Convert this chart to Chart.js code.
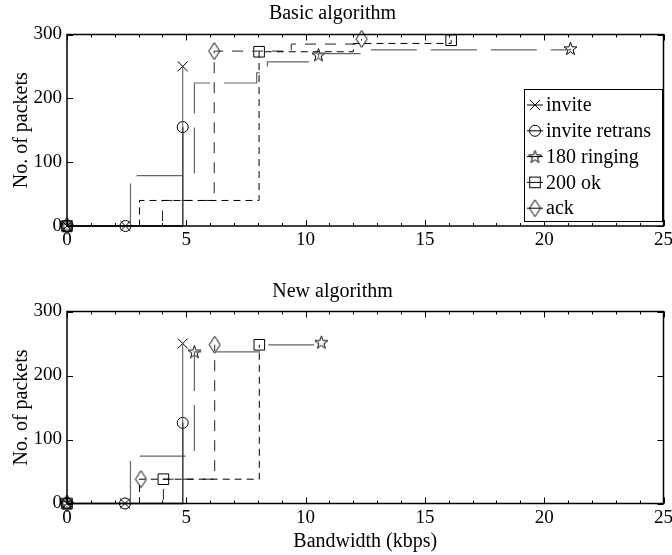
<!DOCTYPE html>
<html><head><meta charset="utf-8">
<script src="https://cdn.jsdelivr.net/npm/chart.js@4.4.1/dist/chart.umd.min.js"></script>
<style>
html,body{margin:0;padding:0;background:#fff}
body{width:672px;height:555px;position:relative;overflow:hidden}
canvas{position:absolute;left:0}
#c1{top:0}
#c2{top:278px}
</style></head><body>
<canvas id="c1" width="672" height="256"></canvas>
<canvas id="c2" width="672" height="277"></canvas>
<script>
/* two stacked step plots: packets received vs bandwidth */
const names = ['invite', 'invite retrans', '180 ringing', '200 ok', 'ack'];

// Basic algorithm — step outlines [bandwidth, packets]
const bInvite  = [[0,0],[4.85,250]];
const bRetrans = [[0,0],[4.85,155]];
const bRinging = [[0,0],[2.66,79],[5.34,224],[7.95,240],[8.4,257],[10.54,270],[12.6,276],[21.1,278]];
const bOk      = [[0,0],[3.04,40],[8.05,273],[12.0,286],[16.1,291]];
const bAck     = [[0,0],[4.0,40],[6.17,274],[9.4,285],[12.35,293]];
// Basic algorithm — marked points
const bInviteM  = [[0,0],[2.45,0],[4.85,250]];
const bRetransM = [[0,0],[2.45,0],[4.85,155]];
const bRingingM = [[0,0],[10.54,268],[21.1,278]];
const bOkM      = [[0,0],[8.05,273],[16.1,291]];
const bAckM     = [[0,0],[6.17,274],[12.35,293]];

// New algorithm — step outlines
const nInvite  = [[0,0],[4.85,250]];
const nRetrans = [[0,0],[4.85,126]];
const nRinging = [[0,0],[2.66,74],[5.34,237],[8.06,248],[10.66,252]];
const nOk      = [[0,0],[3.04,38],[8.06,248]];
const nAck     = [[0,0],[4.04,38],[6.19,248]];
// New algorithm — marked points
const nInviteM  = [[0,0],[2.43,0],[4.85,250]];
const nRetransM = [[0,0],[2.43,0],[4.85,126]];
const nRingingM = [[0,0],[5.34,237],[10.66,252]];
const nOkM      = [[0,0],[4.04,38],[8.06,248]];
const nAckM     = [[0,0],[3.1,38],[6.19,248]];

const xTicks = [0, 5, 10, 15, 20, 25];
const yTicks = [0, 100, 200, 300];

const FONT = '"Liberation Serif","Times New Roman",serif';
Chart.defaults.font.family = FONT;
Chart.defaults.color = '#000';

function starImg(){
  const c = document.createElement('canvas'); c.width = c.height = 15;
  const g = c.getContext('2d');
  g.beginPath();
  for (let k=0;k<10;k++){
    const r = k%2 ? 2.7 : 6.8, a = -Math.PI/2 + k*Math.PI/5;
    g.lineTo(7.5 + r*Math.cos(a), 8 + r*Math.sin(a));
  }
  g.closePath(); g.strokeStyle = '#000'; g.lineWidth = 1; g.stroke();
  return c;
}
function diamondImg(){
  const c = document.createElement('canvas'); c.width = 13; c.height = 19;
  const g = c.getContext('2d');
  g.beginPath(); g.moveTo(6.5,1); g.lineTo(12,9.5); g.lineTo(6.5,18); g.lineTo(1,9.5); g.closePath();
  g.strokeStyle = '#000'; g.lineWidth = 1; g.stroke();
  return c;
}
const STAR = starImg(), DIAM = diamondImg();

const styles = [
  { color:'#555', width:1,   dash:[],      point:'crossRot', r:7 },
  { color:'#000', width:1.3, dash:[],      point:'circle',   r:5.5 },
  { color:'#666', width:1.2, dash:[46,14], point:STAR,       r:6 },
  { color:'#000', width:1,   dash:[7,5],   point:'rect',     r:7.5 },
  { color:'#222', width:1,   dash:[11,9],  point:DIAM,       r:6 }
];

const toXY = arr => arr.map(([x,y]) => ({x, y}));

function drawMark(ctx, s, x, y){
  ctx.save(); ctx.strokeStyle = '#000'; ctx.lineWidth = 1;
  if (s.point === 'circle'){ ctx.beginPath(); ctx.arc(x,y,s.r,0,Math.PI*2); ctx.stroke(); }
  else if (s.point === 'rect'){ const h = s.r*Math.SQRT1_2; ctx.strokeRect(x-h,y-h,2*h,2*h); }
  else if (s.point === 'crossRot'){ const h = s.r*Math.SQRT1_2; ctx.beginPath(); ctx.moveTo(x-h,y-h); ctx.lineTo(x+h,y+h); ctx.moveTo(x+h,y-h); ctx.lineTo(x-h,y+h); ctx.stroke(); }
  else ctx.drawImage(s.point, x - s.point.width/2, y - s.point.height/2);
  ctx.restore();
}

const frame = {
  id:'frame',
  afterDraw(chart){
    const {ctx, chartArea:a, scales:{x, y}} = chart;
    ctx.save(); ctx.strokeStyle = '#000'; ctx.lineWidth = 1;
    ctx.beginPath();
    for (let v=0; v<=25; v++){
      const px = Math.round(x.getPixelForValue(v)) + 0.5, len = v%5 ? 3 : 6;
      ctx.moveTo(px, a.top); ctx.lineTo(px, a.top+len);
      ctx.moveTo(px, a.bottom); ctx.lineTo(px, a.bottom-len);
    }
    yTicks.forEach(v => {
      const py = Math.round(y.getPixelForValue(v)) + 0.5;
      ctx.moveTo(a.left, py); ctx.lineTo(a.left+6, py);
      ctx.moveTo(a.right, py); ctx.lineTo(a.right-6, py);
    });
    ctx.stroke();
    ctx.lineWidth = 1.5;
    ctx.strokeRect(a.left, a.top, a.right-a.left, a.bottom-a.top);
    ctx.restore();

    if (!chart.options.plugins.frame.legend) return;
    // MATLAB-style legend box inside the axes
    const L = 524.5, T = 89.5, W = 138, Hh = 132;
    ctx.save();
    ctx.fillStyle = '#fff'; ctx.fillRect(L, T, W, Hh);
    ctx.strokeStyle = '#000'; ctx.lineWidth = 1; ctx.strokeRect(L, T, W, Hh);
    ctx.font = '20px ' + FONT; ctx.textBaseline = 'middle'; ctx.fillStyle = '#000';
    names.forEach((n, i) => {
      const yy = 105 + i*25.8;
      ctx.beginPath(); ctx.moveTo(527, yy); ctx.lineTo(543, yy); ctx.stroke();
      drawMark(ctx, styles[i], 535, yy);
      ctx.fillText(n, 546, yy + 1);
    });
    ctx.restore();
  }
};

function makeChart(id, title, lines, marks, opt){
  const datasets = [];
  lines.forEach((pts, i) => {
    const s = styles[i];
    datasets.push({ data: toXY(pts), stepped: true, borderColor: s.color, borderWidth: s.width,
      borderDash: s.dash, pointRadius: 0, fill: false, clip: false });
  });
  marks.forEach((pts, i) => {
    const s = styles[i];
    datasets.push({ data: toXY(pts), showLine: false, pointStyle: s.point, pointRadius: s.r,
      pointBorderColor: '#000', pointBackgroundColor: 'rgba(0,0,0,0)', pointBorderWidth: 1, clip: false });
  });
  return new Chart(document.getElementById(id), {
    type: 'line',
    data: { datasets },
    plugins: [frame],
    options: {
      responsive: false, animation: false, devicePixelRatio: 1,
      layout: { padding: { left: 0, right: 7, top: 0, bottom: 0 } },
      plugins: {
        legend: { display: false }, tooltip: { enabled: false },
        title: { display: true, text: title, color: '#000', font: { size: 20, weight: 'normal' }, padding: { top: 2, bottom: opt.titleGap } },
        frame: { legend: opt.legend }
      },
      scales: {
        x: { type: 'linear', min: 0, max: 25,
          afterBuildTicks: s => { s.ticks = xTicks.map(v => ({ value: v })); },
          ticks: { padding: 3, font: { size: 19 }, color: '#000', maxRotation: 0 },
          grid: { display: false, drawTicks: false }, border: { display: false },
          title: { display: opt.xTitle, text: 'Bandwidth (kbps)', color: '#000', font: { size: 20 }, padding: { top: 0, bottom: 1 } },
          afterFit: s => { s.height = opt.xh; s.paddingLeft = 0; s.paddingRight = 0; } },
        y: { min: 0, max: 300,
          afterBuildTicks: s => { s.ticks = yTicks.map(v => ({ value: v })); },
          ticks: { padding: 5, font: { size: 19 }, color: '#000' },
          grid: { display: false, drawTicks: false }, border: { display: false },
          title: { display: true, text: 'No. of packets', color: '#000', font: { size: 20 }, padding: { top: 10, bottom: 0 } },
          afterFit: s => { s.width = 67; } }
      }
    }
  });
}

makeChart('c1', 'Basic algorithm',
  [bInvite, bRetrans, bRinging, bOk, bAck],
  [bInviteM, bRetransM, bRingingM, bOkM, bAckM],
  { legend: true, xTitle: false, xh: 30, titleGap: 8.5 });
makeChart('c2', 'New algorithm',
  [nInvite, nRetrans, nRinging, nOk, nAck],
  [nInviteM, nRetransM, nRingingM, nOkM, nAckM],
  { legend: false, xTitle: true, xh: 51.5, titleGap: 7.5 });
</script>
</body></html>
